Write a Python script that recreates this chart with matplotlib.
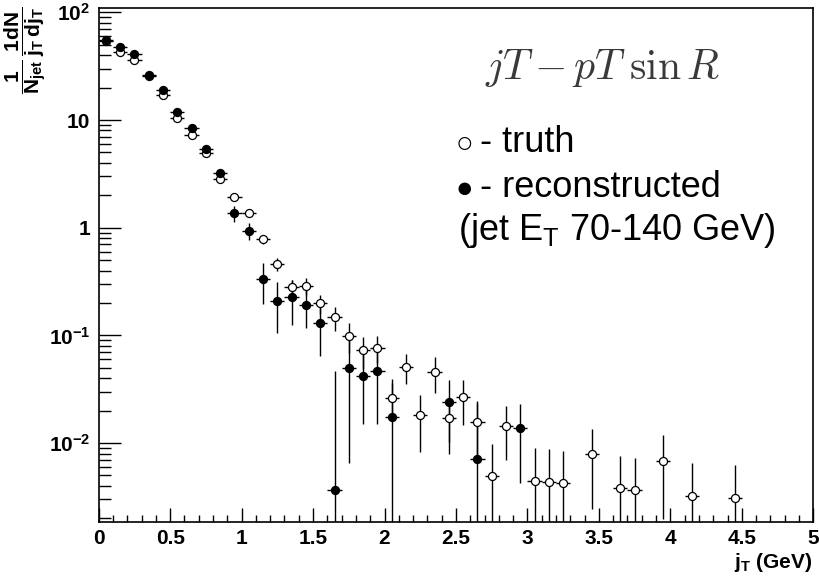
import numpy as np
import matplotlib
matplotlib.use('Agg')
import matplotlib.pyplot as plt
from matplotlib.ticker import FixedLocator, FixedFormatter, MultipleLocator, NullFormatter

plt.rcParams['font.family'] = ['Liberation Sans', 'DejaVu Sans']

half_bin = 0.05

# truth-level jT spectrum (open points)
truth_jt = [0.05, 0.15, 0.25, 0.35, 0.45, 0.55, 0.65, 0.75, 0.85, 0.95,
            1.05, 1.15, 1.25, 1.35, 1.45, 1.55, 1.65, 1.75, 1.85, 1.95,
            2.05, 2.15, 2.25, 2.35, 2.45, 2.55, 2.65, 2.75, 2.85, 3.05,
            3.15, 3.25, 3.45, 3.65, 3.75, 3.95, 4.15, 4.45]
truth_val = [54, 43, 36, 25.5, 17.1, 10.5, 7.26, 4.9, 2.83, 1.94,
             1.37, 0.78, 0.46, 0.28, 0.288, 0.199, 0.147, 0.099, 0.073, 0.077,
             0.0264, 0.0513, 0.0182, 0.046, 0.017, 0.0266, 0.0156, 0.00495, 0.0145, 0.00448,
             0.00438, 0.00424, 0.00793, 0.0038, 0.00367, 0.00687, 0.00325, 0.00311]
truth_err = [2.0, 1.7, 1.4, 1.0, 0.7, 0.45, 0.3, 0.2, 0.13, 0.1,
             0.08, 0.07, 0.06, 0.045, 0.05, 0.04, 0.037, 0.03, 0.024, 0.021,
             0.01, 0.016, 0.01, 0.0167, 0.009, 0.012, 0.009, 0.00495, 0.0076, 0.00448,
             0.00438, 0.00424, 0.0055, 0.0038, 0.00367, 0.0049, 0.00325, 0.00311]

# reconstructed jT spectrum (filled points)
reco_jt = [0.05, 0.15, 0.25, 0.35, 0.45, 0.55, 0.65, 0.75, 0.85, 0.95,
           1.05, 1.15, 1.25, 1.35, 1.45, 1.55, 1.65, 1.75, 1.85, 1.95,
           2.05, 2.45, 2.65, 2.95]
reco_val = [55.3, 48, 40.8, 26.2, 18.9, 11.9, 8.5, 5.38, 3.2, 1.36,
            0.937, 0.332, 0.21, 0.226, 0.19, 0.129, 0.0037, 0.0495, 0.042, 0.047,
            0.0176, 0.0242, 0.0071, 0.0137]
reco_err = [2.5, 2.2, 2.0, 1.2, 0.9, 0.6, 0.45, 0.3, 0.2, 0.22,
            0.16, 0.135, 0.105, 0.1, 0.072, 0.065, 0.043, 0.043, 0.027, 0.032,
            0.022, 0.014, 0.0166, 0.0094]

y_ticks = [1e-2, 1e-1, 1, 10, 100]
y_labels = [r'$\mathregular{10^{-2}}$', r'$\mathregular{10^{-1}}$', '1', '10',
            r'$\mathregular{10^{2}}$']


def draw_points(ax, x, y, err, face):
    y = np.array(y)
    err = np.array(err)
    # bars reaching below zero just run down to the frame
    lo = np.minimum(err, y * 0.9999)
    ax.errorbar(x, y, yerr=[lo, err], xerr=half_bin, fmt='o', ms=5.8,
                mfc=face, mec='black', mew=0.9, ecolor='black',
                elinewidth=1.0, capsize=0)


fig = plt.figure(figsize=(8.19, 5.80), dpi=100)
ax = fig.add_axes([0.1205, 0.1, 0.8725, 0.8857])

draw_points(ax, truth_jt, truth_val, truth_err, 'white')
draw_points(ax, reco_jt, reco_val, reco_err, 'black')

ax.set_yscale('log')
ax.set_xlim(0, 5)
ax.set_ylim(0.00185, 109)

ax.xaxis.set_minor_locator(MultipleLocator(0.1))
ax.set_xticks(np.arange(0, 5.01, 0.5))
ax.set_xticklabels(['0', '0.5', '1', '1.5', '2', '2.5', '3', '3.5', '4', '4.5', '5'])

ax.yaxis.set_major_locator(FixedLocator(y_ticks))
ax.yaxis.set_major_formatter(FixedFormatter(y_labels))
minor = [m * 10.0 ** e for e in range(-3, 3) for m in range(2, 10)]
ax.yaxis.set_minor_locator(FixedLocator(minor))
ax.yaxis.set_minor_formatter(NullFormatter())

ax.tick_params(axis='both', which='both', direction='in', top=False, right=False,
               width=1.0, color='black')
ax.tick_params(axis='x', which='major', length=10, pad=5, labelsize=15)
ax.tick_params(axis='x', which='minor', length=5)
ax.tick_params(axis='y', which='major', length=16, pad=6, labelsize=15)
ax.tick_params(axis='y', which='minor', length=8.5)
for lab in ax.get_xticklabels() + ax.get_yticklabels():
    lab.set_fontweight('bold')

for sp in ax.spines.values():
    sp.set_linewidth(1.2)

fig.text(812 / 819, 1 - 563 / 580, r'$\mathregular{j_T}$ (GeV)', ha='right', va='center',
         fontsize=15, fontweight='bold')
fig.text(26 / 819, 1 - 50 / 580,
         r'$\dfrac{\mathregular{1}}{\mathregular{N_{jet}}}\,'
         r'\dfrac{\mathregular{1dN}}{\mathregular{j_T\,dj_T}}$',
         rotation=90, ha='center', va='center', fontsize=15, fontweight='bold')

ax.text(0.540, 0.884, r'$jT - pT\;\sin R$',
        transform=ax.transAxes, fontsize=30, color='#3a3a3a',
        math_fontfamily='cm', va='center', ha='left')

# marker key written as text, symbol a bit smaller than the words
ax.text(0.4989, 0.7209, '○', transform=ax.transAxes, fontsize=21, va='baseline')
ax.text(0.5336, 0.7209, '- truth', transform=ax.transAxes, fontsize=26, va='baseline')
ax.text(0.4989, 0.6333, '●', transform=ax.transAxes, fontsize=21, va='baseline')
ax.text(0.5336, 0.6333, '- reconstructed', transform=ax.transAxes, fontsize=26, va='baseline')
ax.text(0.503, 0.549, r'(jet $\mathregular{E_T}$ 70-140 GeV)', transform=ax.transAxes,
        fontsize=26, va='baseline')

fig.savefig('out.png', dpi=100)
